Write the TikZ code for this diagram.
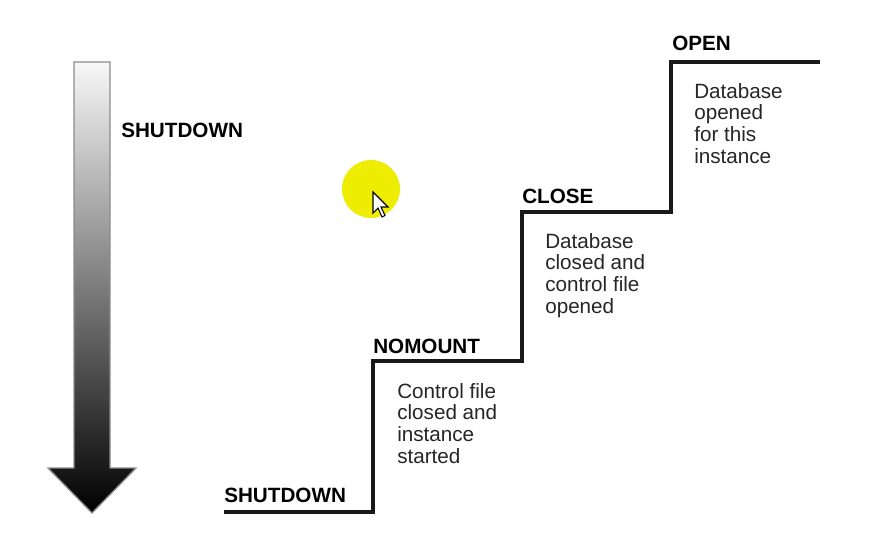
\documentclass[tikz,border=0pt]{standalone}
\usepackage{fontspec}
\setmainfont{Liberation Sans}
\definecolor{hiyellow}{RGB}{238,236,0}
\begin{document}
\begin{tikzpicture}[x=0.75pt,y=-0.75pt,
  lbl/.style={font=\fontsize{15.5}{17}\selectfont\bfseries, inner sep=0pt, anchor=base west},
  desc/.style={font=\fontsize{15.5}{16.3}\selectfont, inner sep=0pt, anchor=north west, align=left, text=black!85},
  stair/.style={line width=3pt, line join=miter, black!90}]
\useasboundingbox (0,0) rectangle (874,560);
% gradient arrow
\shade[top color=black!3, bottom color=black, draw=black!45, line width=1pt]
  (74,62) -- (110,62) -- (110,468) -- (136,468) -- (92,513) -- (48,468) -- (74,468) -- cycle;
\node[lbl] (sdl) at (121,137) {SHUTDOWN};
% staircase corners
\coordinate (s0) at (224,512);
\coordinate (s1) at (373,512);
\coordinate (s2) at (373,361);
\coordinate (s3) at (522,361);
\coordinate (s4) at (522,212);
\coordinate (s5) at (671,212);
\coordinate (s6) at (671,62);
\coordinate (s7) at (820,62);
\draw[stair] (s0) -- (s1) -- (s2) -- (s3) -- (s4) -- (s5) -- (s6) -- (s7);
% labels
\node[lbl] (shut) at (224,502) {SHUTDOWN};
\node[lbl] (nomount) at (373,353) {NOMOUNT};
\node[lbl] (close) at (522,203) {CLOSE};
\node[lbl] (open) at (672,51) {OPEN};
\node[desc] (d1) at (397,383) {Control file\\closed and\\instance\\started};
\node[desc] (d2) at (545,233) {Database\\closed and\\control file\\opened};
\node[desc] (d3) at (694,83) {Database\\opened\\for this\\instance};
% yellow highlight and cursor
\fill[hiyellow] (371,189) circle (29);
\draw[fill=white, line width=0.8pt, line join=miter]
  (373,192) -- ++(0,21) -- ++(5,-5) -- ++(4,9) -- ++(3,-1.5) -- ++(-4,-8.5) -- ++(7,0) -- cycle;
\end{tikzpicture}
\end{document}
